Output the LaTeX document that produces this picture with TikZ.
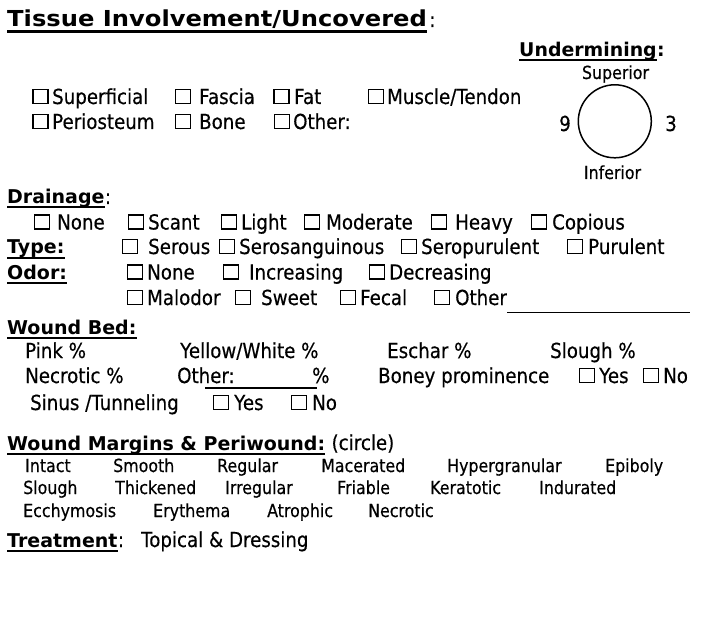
\documentclass[tikz,border=0pt]{standalone}
\usepackage{fontspec}
\usetikzlibrary{calc}
\newfontfamily\bodyf{DejaVu Sans}[FakeStretch=0.88, FakeBold=0.4]
\newfontfamily\boldf{DejaVu Sans Bold}
\newfontfamily\titlef{DejaVu Sans Bold}[FakeStretch=1.1]
\tikzset{
  txt/.style={font=\bodyf\fontsize{20.7}{25}\selectfont, inner sep=0pt, anchor=base west},
  sml/.style={font=\bodyf\fontsize{18}{22}\selectfont, inner sep=0pt, anchor=base west},
  hdr/.style={font=\boldf\fontsize{19}{23}\selectfont, inner sep=0pt, anchor=base west},
  ttl/.style={font=\titlef\fontsize{22}{26}\selectfont, inner sep=0pt, anchor=base west},
  hdu/.style={font=\boldf\fontsize{18.9}{22}\selectfont, inner sep=0pt, anchor=base west},
  cbox/.style={draw, rectangle, line width=1.4pt, minimum width=15pt, minimum height=14pt, inner sep=0pt, anchor=south west},
  uline/.style={line width=2pt},
  fline/.style={line width=1.7pt},
}
\newcommand\cbx[5]{%
  \node[cbox] (#1-box) at ({#2+0.7},{#3+0.3}) {};
  \node[txt] (#1) at (#4,#3) {#5};
}
\newcommand\ulin[1]{\draw[uline] ($(#1.base west)+(0,3.5)$) -- ($(#1.base east)+(0,3.5)$);}
\begin{document}
\begin{tikzpicture}[x=1pt,y=-1pt]
\fill[white] (0,0) rectangle (706,628);
\useasboundingbox (0,0) rectangle (706,628);

% Title
\node[ttl] (title) at (7,27) {Tissue Involvement/Uncovered};
\draw[line width=2.4pt] ($(title.base west)+(0,4.5)$) -- ($(title.base east)+(0,4.5)$);
\node[txt] (titlec) at ($(title.base east)+(2,0)$) {:};

% Undermining
\node[hdu] (under) at (519,57) {Undermining};
\ulin{under}
\node[hdu] (underc) at (under.base east) {:};
\node[sml, anchor=base] (superior) at (615.5,79) {Superior};
\node[draw, circle, line width=1.5pt, minimum size=73pt, inner sep=0pt] (clock) at (614.8,121.3) {};
\node[txt, anchor=base east] (nine) at (571,131) {9};
\node[txt] (three) at (665,131) {3};
\node[sml, anchor=base] (inferior) at (612.5,179) {Inferior};

% Tissue rows
\cbx{sup}{31.5}{104}{52}{Superficial}
\cbx{fas}{174}{104}{199}{Fascia}
\cbx{fat}{272.5}{104}{294}{Fat}
\cbx{mus}{367}{104}{387}{Muscle/Tendon}
\cbx{per}{31.5}{129}{52}{Periosteum}
\cbx{bon}{174}{129}{199}{Bone}
\cbx{oth}{273}{129}{293}{Other:}

% Drainage
\node[hdr] (drain) at (7,204) {Drainage};
\ulin{drain}
\node[txt] (drainc) at (drain.base east) {:};
\cbx{dnone}{33}{229.5}{57}{None}
\cbx{dscant}{127}{229.5}{148}{Scant}
\cbx{dlight}{220}{229.5}{241}{Light}
\cbx{dmod}{303}{229.5}{326}{Moderate}
\cbx{dheavy}{430}{229.5}{455}{Heavy}
\cbx{dcop}{530}{229.5}{552}{Copious}

\node[hdr] (type) at (7,254) {Type:};
\ulin{type}
\cbx{tser}{121}{254}{148}{Serous}
\cbx{tsang}{218}{254}{239}{Serosanguinous}
\cbx{tpur1}{400}{254}{421}{Seropurulent}
\cbx{tpur2}{566}{254}{588}{Purulent}

\node[hdr] (odor) at (7,279.5) {Odor:};
\ulin{odor}
\cbx{onone}{126}{279.5}{147}{None}
\cbx{oinc}{222}{279.5}{249}{Increasing}
\cbx{odec}{368}{279.5}{389}{Decreasing}
\cbx{omal}{126}{305}{147}{Malodor}
\cbx{oswe}{234}{305}{261}{Sweet}
\cbx{ofec}{339}{305}{360}{Fecal}
\cbx{ooth}{433}{305}{455}{Other}
\coordinate (olineend) at (690,312.5);
\draw[fline] ($(ooth.base east)+(0,7.5)$) -- (olineend);

% Wound bed
\node[hdr] (bed) at (7,334) {Wound Bed:};
\ulin{bed}
\node[txt] (pink) at (25,358) {Pink \%};
\node[txt] (yellow) at (180,358) {Yellow/White \%};
\node[txt] (eschar) at (387,358) {Eschar \%};
\node[txt] (slough) at (550,358) {Slough \%};
\node[txt] (necr) at (25,383) {Necrotic \%};
\node[txt] (bother) at (177,383) {Other:};
\node[txt] (bpct) at (312,383) {\%};
\coordinate (bl1) at (205,388);
\coordinate (bl2) at (317,388);
\draw[fline] (bl1) -- (bl2);
\node[txt] (boney) at (378,383) {Boney prominence};
\cbx{byes}{578}{383}{599}{Yes}
\cbx{bno}{642}{383}{663}{No}
\node[txt] (sinus) at (30,410) {Sinus /Tunneling};
\cbx{syes}{212}{410}{234}{Yes}
\cbx{sno}{290}{410}{312}{No}

% Margins
\node[hdr] (marg) at (7,450) {Wound Margins \& Periwound:};
\ulin{marg}
\node[txt] (circ) at ($(marg.base east)+(6,0)$) {(circle)};
\node[sml] (m1) at (25,472) {Intact};
\node[sml] (m2) at (113,472) {Smooth};
\node[sml] (m3) at (217,472) {Regular};
\node[sml] (m4) at (321,472) {Macerated};
\node[sml] (m5) at (447,472) {Hypergranular};
\node[sml] (m6) at (605,472) {Epiboly};
\node[sml] (m7) at (23,494) {Slough};
\node[sml] (m8) at (115,494) {Thickened};
\node[sml] (m9) at (225,494) {Irregular};
\node[sml] (m10) at (337,494) {Friable};
\node[sml] (m11) at (430,494) {Keratotic};
\node[sml] (m12) at (539,494) {Indurated};
\node[sml] (m13) at (23,517) {Ecchymosis};
\node[sml] (m14) at (153,517) {Erythema};
\node[sml] (m15) at (267,517) {Atrophic};
\node[sml] (m16) at (368,517) {Necrotic};

% Treatment
\node[hdr] (treat) at (7,547) {Treatment};
\ulin{treat}
\node[txt] (treatc) at (treat.base east) {:};
\node[txt] (topical) at (141,547) {Topical \& Dressing};
\end{tikzpicture}
\end{document}
